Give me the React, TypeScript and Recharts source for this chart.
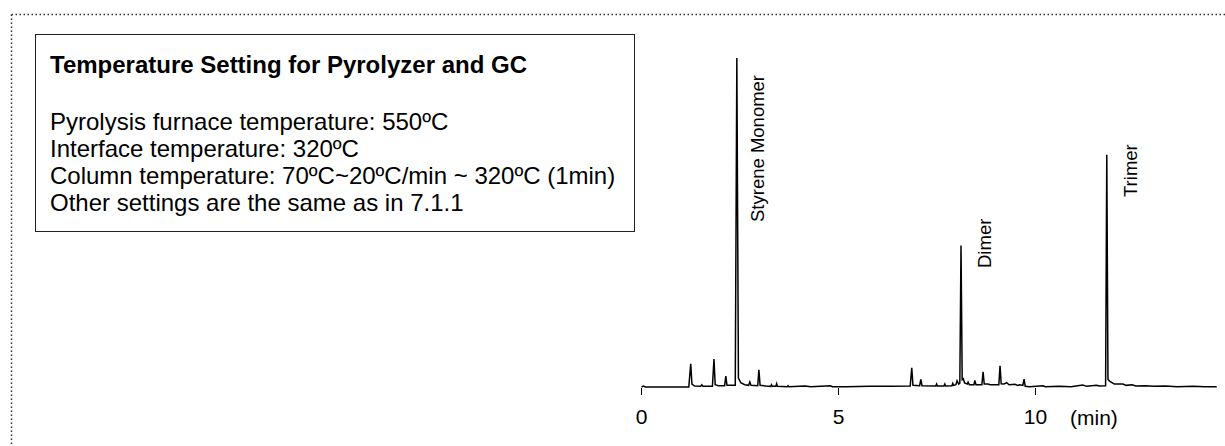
import React from "react";
import { LineChart, Line, XAxis, YAxis } from "recharts";

// Retention time (min) and detector signal (% of largest peak)
const timeMin: number[] = [
  0.0, 0.05, 0.1, 1.2, 1.25, 1.28, 1.35, 1.5, 1.53, 1.56, 1.8, 1.84, 1.87, 1.95, 2.11, 2.14, 2.17,
  2.38, 2.42, 2.46, 2.52, 2.62, 2.72, 2.75, 2.78, 2.95, 2.98, 3.01, 3.15, 3.28, 3.3, 3.32, 3.41,
  3.43, 3.45, 3.7, 3.72, 3.74, 4.15, 4.3, 4.79, 4.85, 5.2, 5.8, 6.3, 6.82, 6.86, 6.89, 7.06, 7.09,
  7.12, 7.47, 7.49, 7.51, 7.68, 7.7, 7.72, 7.88, 7.9, 7.92, 7.98, 8.01, 8.05, 8.08, 8.11, 8.14,
  8.17, 8.2, 8.27, 8.29, 8.32, 8.44, 8.46, 8.49, 8.64, 8.67, 8.7, 8.79, 8.85, 9.07, 9.1, 9.13,
  9.2, 9.27, 9.33, 9.48, 9.55, 9.6, 9.68, 9.71, 9.74, 9.85, 10.19, 10.25, 10.6, 10.9, 11.2, 11.3,
  11.55, 11.62, 11.78, 11.81, 11.84, 11.89, 12.0, 12.22, 12.3, 12.45, 12.55, 12.8, 13.0, 13.3,
  13.6, 14.0, 14.3, 14.6,
];
const intensity: number[] = [
  0.3, 0.6, 0.3, 0.3, 7.3, 1.2, 0.6, 0.5, 1.0, 0.5, 0.5, 8.8, 1.0, 0.7, 0.7, 3.6, 0.8,
  0.8, 100, 3.0, 1.6, 1.0, 0.8, 1.8, 0.8, 0.7, 5.5, 0.8, 0.6, 0.5, 1.0, 0.5, 0.5,
  1.3, 0.5, 0.4, 0.7, 0.4, 0.6, 0.4, 0.7, 0.4, 0.4, 0.5, 0.5, 0.6, 6.1, 0.8, 0.7, 2.6,
  0.7, 0.6, 1.2, 0.6, 0.6, 1.2, 0.6, 0.7, 1.4, 0.8, 1.0, 2.2, 1.2, 1.5, 43.2, 2.5,
  2.8, 1.5, 1.2, 1.8, 1.0, 1.0, 2.3, 1.0, 1.0, 4.9, 1.2, 1.2, 1.0, 1.0, 6.7, 1.3,
  1.2, 1.6, 1.0, 1.1, 0.8, 1.0, 0.8, 2.7, 0.5, 0.4, 0.7, 0.4, 0.5, 0.4, 0.9, 0.5,
  0.8, 0.6, 0.7, 70.7, 2.6, 2.0, 1.2, 1.2, 0.8, 1.0, 0.6, 0.7, 0.5, 0.6,
  0.4, 0.5, 0.4, 0.4,
];
const xTicks: number[] = [0, 5, 10];
const xUnit = "(min)";

const peakNames: string[] = ["Styrene Monomer", "Dimer", "Trimer"];

const titleText = "Temperature Setting for Pyrolyzer and GC";
const settingLines: string[] = [
  "Pyrolysis furnace temperature: 550ºC",
  "Interface temperature: 320ºC",
  "Column temperature: 70ºC~20ºC/min ~ 320ºC (1min)",
  "Other settings are the same as in 7.1.1",
];

const chartData = timeMin.map((t, i) => ({ t, v: intensity[i] }));

const FONT = "'Liberation Sans', Arial, Helvetica, sans-serif";

export default function App() {
  return (
    <div
      style={{
        position: "fixed",
        left: 0,
        top: 0,
        width: 1225,
        height: 446,
        overflow: "hidden",
        background: "#fff",
        fontFamily: FONT,
      }}
    >
      {/* dotted frame */}
      <svg width={1225} height={446} style={{ position: "absolute", left: 0, top: 0 }}>
        <line x1={11.5} y1={14.5} x2={1225} y2={14.5} stroke="#333" strokeWidth={1.5} strokeDasharray="1.5 2.5" />
        <line x1={11.5} y1={14.5} x2={11.5} y2={446} stroke="#333" strokeWidth={1.5} strokeDasharray="1.5 2.5" />
      </svg>

      {/* settings box */}
      <div
        style={{
          position: "absolute",
          left: 35,
          top: 34,
          width: 600,
          height: 198,
          boxSizing: "border-box",
          border: "1px solid #222",
          background: "#fff",
          padding: "16px 14px",
          fontSize: 24,
          lineHeight: "27px",
          color: "#000",
          whiteSpace: "nowrap",
        }}
      >
        <div style={{ fontWeight: "bold" }}>{titleText}</div>
        <div style={{ height: 30 }} />
        {settingLines.map((l) => (
          <div key={l}>{l}</div>
        ))}
      </div>

      {/* chromatogram */}
      <div style={{ position: "absolute", left: 600, top: 40 }}>
        <LineChart
          width={625}
          height={406}
          data={chartData}
          margin={{ top: 18, right: 8.3, bottom: 8, left: 41.5 }}
        >
          <XAxis
            dataKey="t"
            type="number"
            domain={[0, 14.6]}
            ticks={xTicks}
            axisLine={false}
            tickSize={7}
            tickMargin={14.5}
            height={50}
            tickLine={{ stroke: "#000", strokeWidth: 1 }}
            tick={{ fill: "#000", fontSize: 21, fontFamily: FONT }}
            interval={0}
          />
          <YAxis hide domain={[0, 100]} type="number" />
          <Line
            type="linear"
            dataKey="v"
            stroke="#000"
            strokeWidth={1.5}
            dot={false}
            isAnimationActive={false}
          />
        </LineChart>
      </div>

      {/* annotations */}
      <svg width={1225} height={446} style={{ position: "absolute", left: 0, top: 0, pointerEvents: "none" }}>
        <text x={1070} y={424.5} fontSize={21} fontFamily={FONT} fill="#000">
          {xUnit}
        </text>
        <text transform="translate(764,222) rotate(-90)" fontSize={18.5} fontFamily={FONT} fill="#000">
          {peakNames[0]}
        </text>
        <text transform="translate(991,268) rotate(-90)" fontSize={18.5} fontFamily={FONT} fill="#000">
          {peakNames[1]}
        </text>
        <text transform="translate(1137,197) rotate(-90)" fontSize={18.5} fontFamily={FONT} fill="#000">
          {peakNames[2]}
        </text>
      </svg>
    </div>
  );
}
